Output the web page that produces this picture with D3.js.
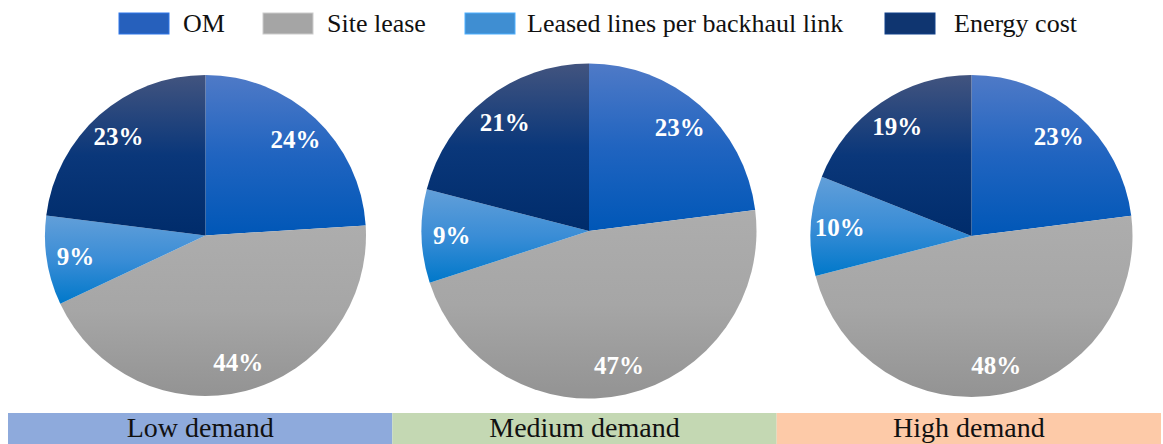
<!DOCTYPE html>
<html>
<head>
<meta charset="utf-8">
<script src="https://cdn.jsdelivr.net/npm/d3@7/dist/d3.min.js"></script>
<style>
  html, body { margin: 0; padding: 0; background: #fff; }
  svg { display: block; font-family: "Liberation Serif", "Times New Roman", serif; }
</style>
</head>
<body>
<svg id="chart" width="1163" height="444"></svg>
<script>
// Cost components (legend order, also slice order clockwise from 12 o'clock)
const components = ["OM", "Site lease", "Leased lines per backhaul link", "Energy cost"];

// Demand scenarios
const scenarios = ["Low demand", "Medium demand", "High demand"];

// Share of each cost component (%) per scenario
const lowDemand    = [24, 44, 9, 23];
const mediumDemand = [23, 47, 9, 21];
const highDemand   = [23, 48, 10, 19];
const scenarioValues = [lowDemand, mediumDemand, highDemand];

// Fill styles: flat legend colours and vertical gradient stops for the slices
const baseColors = ["#2660BC", "#A5A5A5", "#3F8ED2", "#0F3570"];
const gradStops = [
  ["#4F7AC7", "#2064C0", "#0057B7"],
  ["#ADADAD", "#A6A6A6", "#939393"],
  ["#629FD9", "#3A8DD6", "#0078CA"],
  ["#42547F", "#0A377A", "#002C6B"]
];
const bandColors = ["#8EAADC", "#C4D8B3", "#FDCAA8"];

// Pie placement
const pieLayout = [
  { cx: 205.5, cy: 235.5, r: 160.5 },
  { cx: 589,   cy: 231,   r: 167.5 },
  { cx: 971.5, cy: 236,   r: 161 }
];

const svg = d3.select("#chart");
const defs = svg.append("defs");

gradStops.forEach((stops, i) => {
  const g = defs.append("linearGradient")
    .attr("id", "grad" + i)
    .attr("x1", 0).attr("y1", 0).attr("x2", 0).attr("y2", 1);
  g.append("stop").attr("offset", "0%").attr("stop-color", stops[0]);
  g.append("stop").attr("offset", "50%").attr("stop-color", stops[1]);
  g.append("stop").attr("offset", "100%").attr("stop-color", stops[2]);
});

// Legend
const legendSquareX = [119, 263, 465, 885];
const legendTextX   = [183, 327, 527, 954];
const legend = svg.append("g").attr("class", "legend");
components.forEach((name, i) => {
  legend.append("rect")
    .attr("x", legendSquareX[i]).attr("y", 13)
    .attr("width", 50).attr("height", 21)
    .attr("fill", baseColors[i])
    .attr("stroke", d3.color(baseColors[i]).brighter(0.6))
    .attr("stroke-width", 1);
  legend.append("text")
    .attr("x", legendTextX[i]).attr("y", 32)
    .attr("font-size", 26)
    .attr("fill", "#111")
    .text(name);
});

// Pies
const pie = d3.pie().sort(null).value(d => d);

scenarioValues.forEach((vals, s) => {
  const L = pieLayout[s];
  const g = svg.append("g").attr("transform", `translate(${L.cx},${L.cy})`);
  const arc = d3.arc().innerRadius(0).outerRadius(L.r);
  const labelArc = d3.arc().innerRadius(L.r * 0.82).outerRadius(L.r * 0.82);
  const arcs = pie(vals);

  g.selectAll("path.slice")
    .data(arcs)
    .join("path")
    .attr("class", "slice")
    .attr("d", arc)
    .attr("fill", (d, i) => `url(#grad${i})`);

  g.selectAll("text.pct")
    .data(arcs)
    .join("text")
    .attr("class", "pct")
    .attr("transform", d => `translate(${labelArc.centroid(d)})`)
    .attr("text-anchor", "middle")
    .attr("dominant-baseline", "central")
    .attr("font-size", 25)
    .attr("font-weight", "bold")
    .attr("fill", "#fff")
    .text(d => d.data + "%");
});

// Scenario bands along the bottom
const band = d3.scaleBand().domain(scenarios).range([8, 1161]).padding(0);
const bands = svg.append("g").attr("class", "bands");
bands.selectAll("rect")
  .data(scenarios)
  .join("rect")
  .attr("x", d => band(d))
  .attr("y", 413)
  .attr("width", band.bandwidth())
  .attr("height", 40)
  .attr("fill", (d, i) => bandColors[i]);
bands.selectAll("text")
  .data(scenarios)
  .join("text")
  .attr("x", d => band(d) + band.bandwidth() / 2)
  .attr("y", 437)
  .attr("text-anchor", "middle")
  .attr("font-size", 28)
  .attr("fill", "#111")
  .text(d => d);
</script>
</body>
</html>
